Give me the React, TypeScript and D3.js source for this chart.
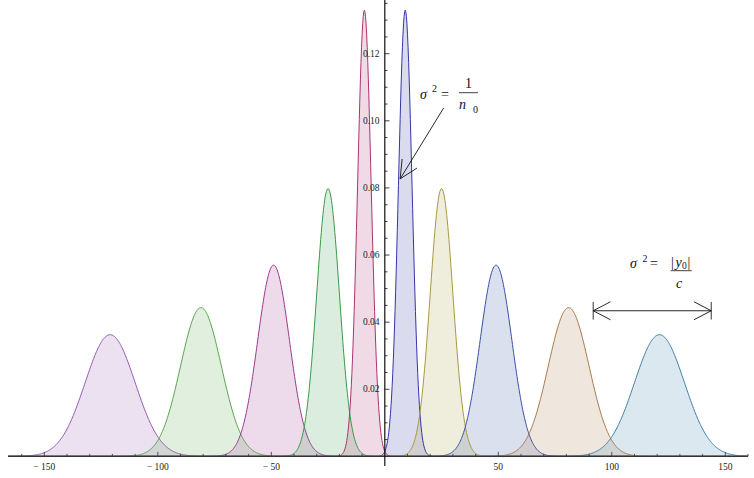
import React from "react";
import * as d3 from "d3";

// gaussian components: mean (units) and standard deviation
const means = [-121, -81, -49, -25, -9, 9, 25, 49, 81, 121];
const sigmas = [11, 9, 7, 5, 3, 3, 5, 7, 9, 11];
const colors = [
  "#9457b2", "#56a64b", "#9c3a8e", "#3a9a48", "#ad3470",
  "#3636a6", "#a69a3e", "#3a52a6", "#a67a48", "#3d7ea6",
];
const xMajor = [-150, -100, -50, 50, 100, 150];
const yMajor = [0.02, 0.04, 0.06, 0.08, 0.1, 0.12];
const yLabels = ["0.02", "0.04", "0.06", "0.08", "0.10", "0.12"];

const W = 754, H = 478;
const serif = "'Liberation Serif', 'DejaVu Serif', serif";

const density = (x: number, m: number, s: number) =>
  Math.exp(-((x - m) * (x - m)) / (2 * s * s)) / (s * Math.sqrt(2 * Math.PI));

const arrowHead = (x: number, y: number, ang: number, len = 20, spread = 0.45) => {
  const a1 = ang + spread, a2 = ang - spread;
  return `M${x + len * Math.cos(a1)},${y + len * Math.sin(a1)}L${x},${y}L${x + len * Math.cos(a2)},${y + len * Math.sin(a2)}`;
};

const App = () => {
  const x = d3.scaleLinear([-166, 160], [8, 748]);
  const y = d3.scaleLinear([0, 0.136], [456.4, 0]);
  const xs = d3.range(-166, 160.01, 0.25);

  const area = (m: number, s: number) =>
    d3.area<number>().x(d => x(d)).y0(y(0)).y1(d => y(density(d, m, s)))(xs) || "";
  const line = (m: number, s: number) =>
    d3.line<number>().x(d => x(d)).y(d => y(density(d, m, s)))(xs) || "";

  const xMinor = d3.range(-160, 161, 10).filter(v => v % 50 !== 0);
  const yMinor = d3.range(0.005, 0.1351, 0.005).filter(v => Math.abs(Math.round(v * 50) - v * 50) > 1e-6);

  // annotation 1: arrow pointing at the narrow peak
  const tail = [x(25.9), y(0.1038)];
  const tip = [x(6.75), y(0.0827)];
  const ang1 = Math.atan2(tail[1] - tip[1], tail[0] - tip[0]);

  // annotation 2: double arrow
  const dx1 = x(91.8), dx2 = x(143.8), dy = y(0.0434);

  return (
    <svg width={W} height={H} style={{ position: "absolute", left: 0, top: 0, background: "#fff" }}>
      <g>
        {means.map((m, i) => (
          <path key={"f" + i} d={area(m, sigmas[i])} fill={colors[i]} fillOpacity={0.18} stroke="none" />
        ))}
        {means.map((m, i) => (
          <path key={"l" + i} d={line(m, sigmas[i])} fill="none" stroke={colors[i]} strokeWidth={1} />
        ))}
      </g>

      {/* x axis */}
      <line x1={8} x2={748} y1={y(0)} y2={y(0)} stroke="#333" strokeWidth={1.3} />
      {xMinor.map(v => (
        <line key={"xm" + v} x1={x(v)} x2={x(v)} y1={y(0)} y2={y(0) - 2.5} stroke="#333" strokeWidth={0.8} />
      ))}
      {xMajor.map(v => (
        <g key={"xM" + v}>
          <line x1={x(v)} x2={x(v)} y1={y(0)} y2={y(0) - 4.5} stroke="#333" strokeWidth={0.8} />
          <text x={x(v)} y={469.5} textAnchor="middle" fontFamily={serif} fontSize={9.5} fill="#222">
            {v < 0 ? "\u2212 " + Math.abs(v) : v}
          </text>
        </g>
      ))}

      {/* y axis */}
      <line x1={x(0)} x2={x(0)} y1={0} y2={466} stroke="#111" strokeWidth={1.2} />
      {yMinor.map(v => (
        <line key={"ym" + v} x1={x(0)} x2={x(0) + 2.7} y1={y(v)} y2={y(v)} stroke="#111" strokeWidth={0.8} />
      ))}
      {yMajor.map((v, i) => (
        <g key={"yM" + v}>
          <line x1={x(0)} x2={x(0) + 4.7} y1={y(v)} y2={y(v)} stroke="#111" strokeWidth={0.8} />
          <text x={379.5} y={y(v) + 3.2} textAnchor="end" fontFamily={serif} fontSize={9.5} fill="#222">
            {yLabels[i]}
          </text>
        </g>
      ))}

      {/* annotation 1 */}
      <g fontFamily={serif} fill="#111">
        <text x={420} y={98.5} fontSize={14} fontStyle="italic">σ</text>
        <text x={432} y={92} fontSize={10}>2</text>
        <text x={441} y={98.5} fontSize={14}>=</text>
        <text x={468.5} y={88} fontSize={14} textAnchor="middle">1</text>
        <line x1={459} x2={478} y1={92.7} y2={92.7} stroke="#111" strokeWidth={0.8} />
        <text x={459} y={109} fontSize={14} fontStyle="italic">n</text>
        <text x={473} y={113} fontSize={10}>0</text>
      </g>
      <line x1={tail[0]} y1={tail[1]} x2={tip[0]} y2={tip[1]} stroke="#111" strokeWidth={0.9} />
      <path d={arrowHead(tip[0], tip[1], ang1)} fill="none" stroke="#111" strokeWidth={0.9} />

      {/* annotation 2 */}
      <g fontFamily={serif} fill="#111">
        <text x={630} y={268.3} fontSize={14} fontStyle="italic">σ</text>
        <text x={642.5} y={262} fontSize={10}>2</text>
        <text x={650} y={268.3} fontSize={14}>=</text>
        <text x={671} y={266.5} fontSize={14}>|</text>
        <text x={675.5} y={266.5} fontSize={14} fontStyle="italic">y</text>
        <text x={682} y={268.5} fontSize={9.5}>0</text>
        <text x={687.5} y={266.5} fontSize={14}>|</text>
        <line x1={670.7} x2={691.7} y1={270.7} y2={270.7} stroke="#111" strokeWidth={0.8} />
        <text x={679.2} y={288.3} fontSize={14} fontStyle="italic" textAnchor="middle">c</text>
      </g>
      <line x1={dx1} x2={dx2} y1={dy} y2={dy} stroke="#111" strokeWidth={0.9} />
      <line x1={dx1} x2={dx1} y1={dy - 8.8} y2={dy + 8.8} stroke="#333" strokeWidth={1} />
      <line x1={dx2} x2={dx2} y1={dy - 8.8} y2={dy + 8.8} stroke="#333" strokeWidth={1} />
      <path d={arrowHead(dx1, dy, 0, 19.5, 0.48)} fill="none" stroke="#111" strokeWidth={0.9} />
      <path d={arrowHead(dx2, dy, Math.PI, 19.5, 0.48)} fill="none" stroke="#111" strokeWidth={0.9} />
    </svg>
  );
};

export default App;
